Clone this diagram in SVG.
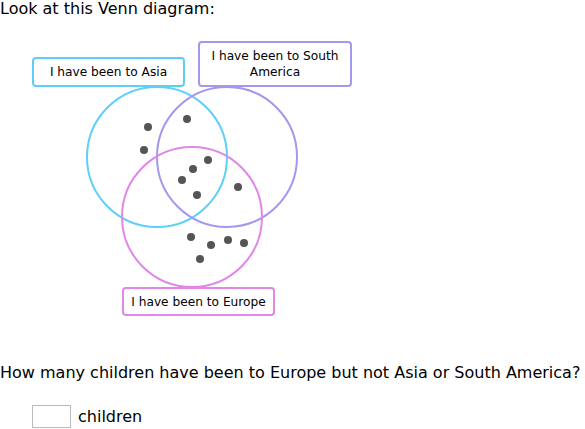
<svg xmlns="http://www.w3.org/2000/svg" width="585" height="429" viewBox="0 0 585 429">
<style>
text{font-family:"DejaVu Sans","Liberation Sans",sans-serif;fill:#000}
.big{font-size:16px}
.lbl{font-size:12.2px}
.c{fill:none;stroke-width:2}
.box{fill:#fff;stroke-width:2}
.d{fill:#555}
</style>
<rect width="585" height="429" fill="#fff"/>
<text class="big" x="0" y="14">Look at this Venn diagram:</text>
<g id="circles">
<circle id="asia-c" class="c" cx="157" cy="157" r="70" stroke="#5fd0f5"/>
<circle id="sa-c" class="c" cx="227" cy="157" r="70" stroke="#a397ee"/>
<circle id="eu-c" class="c" cx="192" cy="217" r="70" stroke="#e087e8"/>
</g>
<g id="dots">
<circle class="d" cx="148" cy="127" r="4"/><circle class="d" cx="144" cy="150" r="4"/>
<circle class="d" cx="187" cy="119" r="4"/><circle class="d" cx="208" cy="160" r="4"/>
<circle class="d" cx="193" cy="169" r="4"/><circle class="d" cx="182" cy="180" r="4"/>
<circle class="d" cx="197" cy="195" r="4"/><circle class="d" cx="238" cy="187" r="4"/>
<circle class="d" cx="191" cy="237" r="4"/><circle class="d" cx="211" cy="245" r="4"/>
<circle class="d" cx="228" cy="240" r="4"/><circle class="d" cx="244" cy="243" r="4"/>
<circle class="d" cx="200" cy="259" r="4"/>
</g>
<g id="asia">
<rect class="box" x="33" y="58" width="151" height="28" rx="3" stroke="#5fd0f5"/>
<text class="lbl" x="108.5" y="76" text-anchor="middle">I have been to Asia</text>
</g>
<g id="sa">
<rect class="box" x="199" y="42" width="152" height="44" rx="3" stroke="#a397ee"/>
<text class="lbl" x="275" y="60" text-anchor="middle">I have been to South</text>
<text class="lbl" x="275" y="76" text-anchor="middle">America</text>
</g>
<g id="europe">
<rect class="box" x="123" y="288" width="151" height="27" rx="3" stroke="#e087e8"/>
<text class="lbl" x="198.5" y="306" text-anchor="middle">I have been to Europe</text>
</g>
<text class="big" x="0" y="378">How many children have been to Europe but not Asia or South America?</text>
<rect x="32.5" y="405.5" width="38" height="22" fill="#fff" stroke="#bbb"/>
<text class="big" x="78" y="422">children</text>
</svg>
